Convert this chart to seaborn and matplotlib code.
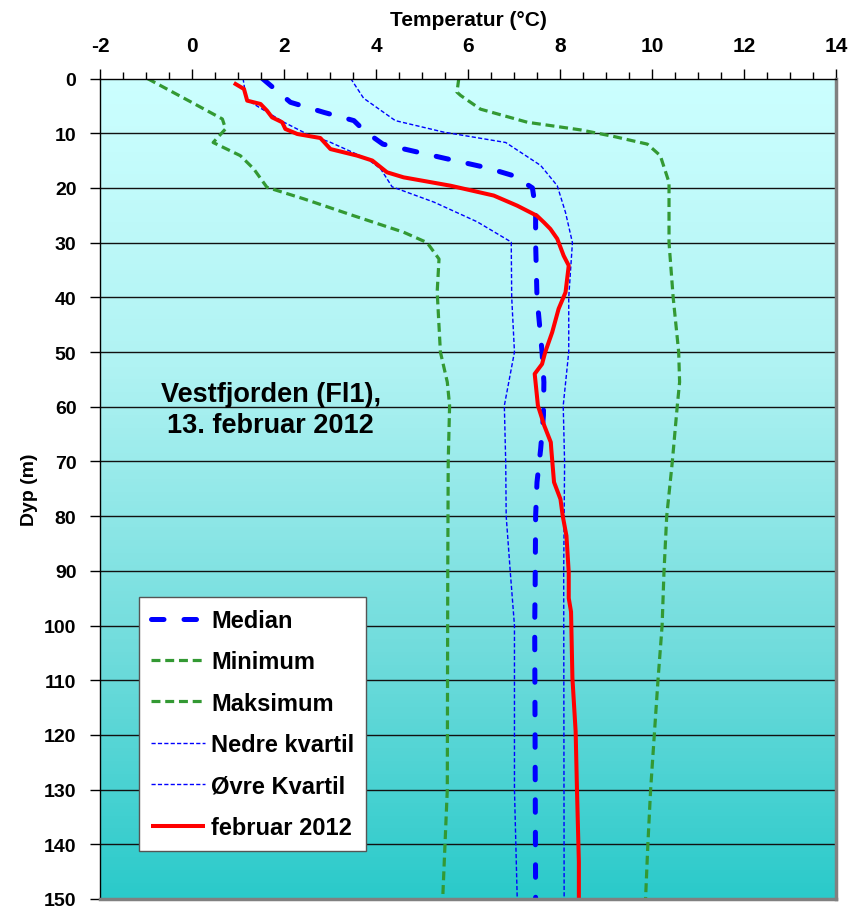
import numpy as np
import pandas as pd
import matplotlib
matplotlib.use("Agg")
import matplotlib.pyplot as plt
from matplotlib.colors import LinearSegmentedColormap
from matplotlib.ticker import MultipleLocator
import seaborn as sns

# ---------------- data ----------------
median_d = [0, 4.35, 6.2, 7.7, 9.6, 12.0, 14.6, 16.3, 17.8, 20.0, 23.8, 30, 40, 50, 55.5, 61.6, 67.7, 73.8, 80, 92.5, 100, 150]
median_t = [1.53, 2.14, 2.87, 3.52, 3.75, 4.15, 5.5, 6.4, 7.0, 7.4, 7.47, 7.47, 7.5, 7.61, 7.65, 7.64, 7.58, 7.5, 7.47, 7.46, 7.45, 7.47]

min_d = [0, 4.3, 7.4, 9.2, 11.7, 14.1, 16.5, 19.9, 22, 25.1, 28.1, 30, 33, 39, 50, 55.5, 59.8, 70, 90, 130, 150]
min_t = [-0.97, -0.02, 0.66, 0.73, 0.46, 1.05, 1.34, 1.63, 2.43, 3.52, 4.6, 5.11, 5.37, 5.33, 5.40, 5.55, 5.6, 5.57, 5.56, 5.55, 5.45]

max_d = [0, 2.5, 3.1, 5.6, 8.0, 9.4, 10.6, 12.0, 14.1, 19.0, 30, 40, 50, 55.5, 59.8, 70.2, 80, 90.3, 100, 110, 120, 130, 140, 150]
max_t = [5.8, 5.76, 5.84, 6.27, 7.29, 8.45, 9.17, 9.9, 10.18, 10.37, 10.37, 10.46, 10.58, 10.6, 10.55, 10.44, 10.32, 10.26, 10.22, 10.13, 10.05, 9.97, 9.91, 9.86]

q1_d = [0, 3.75, 4.66, 8.0, 10.15, 11.67, 14.7, 16.5, 19.8, 22.6, 26.2, 29.9, 40, 50, 59.8, 70.2, 80, 90.3, 100, 130, 150]
q1_t = [1.11, 1.18, 1.34, 2.0, 2.5, 3.01, 3.81, 4.1, 4.35, 5.26, 6.2, 6.94, 6.95, 7.01, 6.79, 6.82, 6.83, 6.92, 7.01, 7.01, 7.07]

q3_d = [0, 3.6, 7.7, 9.8, 11.7, 15.9, 19.6, 24.5, 30, 40, 50, 59.8, 70.2, 90.3, 150]
q3_t = [3.45, 3.73, 4.42, 5.47, 6.82, 7.58, 7.94, 8.12, 8.27, 8.19, 8.19, 8.07, 8.1, 8.08, 8.09]

feb_d = [0.82, 1.92, 4.05, 4.66, 5.88, 7.1, 8.0, 9.23, 10.15, 10.88, 12.9, 14.1, 15.0, 17.15, 18.07, 19.6, 21.4,
         23.25, 25.1, 26.3, 27.5, 29.3, 32.4, 34.2, 39.1, 42.1, 46.4, 50, 52.2, 54, 59.8, 63.5, 66.5, 67.7, 73.8,
         76.9, 80, 83.6, 90.3, 95, 97.5, 109.6, 119.4, 130.4, 143.2, 150]
feb_t = [0.91, 1.13, 1.2, 1.49, 1.63, 1.74, 1.96, 2.03, 2.29, 2.79, 3.01, 3.59, 3.92, 4.24, 4.6, 5.62, 6.56,
         7.07, 7.5, 7.65, 7.79, 7.94, 8.08, 8.19, 8.12, 7.97, 7.83, 7.68, 7.61, 7.45, 7.52, 7.66, 7.8, 7.81, 7.87,
         8.01, 8.06, 8.14, 8.19, 8.19, 8.24, 8.27, 8.34, 8.37, 8.41, 8.41]

x_ticks = [-2, 0, 2, 4, 6, 8, 10, 12, 14]
y_ticks = list(range(0, 151, 10))

# ---------------- style ----------------
sns.set_theme(style="white")
plt.rcParams['font.family'] = ['Liberation Sans', 'DejaVu Sans']
plt.rcParams['font.weight'] = 'bold'
plt.rcParams['axes.unicode_minus'] = False
for k in ['text.color', 'axes.labelcolor', 'xtick.color', 'ytick.color']:
    plt.rcParams[k] = 'black'

fig = plt.figure(figsize=(8.63, 9.2), dpi=100)
ax = fig.add_axes([100 / 863, 1 - 900 / 920, 736 / 863, 820.5 / 920])

# gradient background
cmap = LinearSegmentedColormap.from_list(
    "bg", [(0.0, "#CCFFFF"), (0.35, "#B0F3F3"), (0.7, "#70DCDC"), (1.0, "#2ACACA")])
grad = np.linspace(0, 1, 256).reshape(-1, 1)
ax.imshow(grad, cmap=cmap, aspect='auto', extent=[-2, 14, 150, 0], zorder=0)

# horizontal grid
for yv in y_ticks[1:-1]:
    ax.axhline(yv, color='#111111', lw=1.0, zorder=1)

def draw(t, d, color, lw, dashes, label, cap='butt'):
    df = pd.DataFrame({'t': t, 'd': d})
    sns.lineplot(data=df, x='t', y='d', sort=False, estimator=None, ax=ax,
                 color=color, lw=lw, label=label, zorder=3)
    l = ax.lines[-1]
    if dashes is not None:
        l.set_dashes(dashes)
    l.set_solid_capstyle('butt')
    l.set_dash_capstyle(cap)
    return l

draw(median_t, median_d, '#0000FF', 3.6, (2.5, 4.0), 'Median', cap='round')
draw(min_t, min_d, '#339933', 2.3, (2.8, 1.5), 'Minimum')
draw(max_t, max_d, '#339933', 2.3, (2.8, 1.5), 'Maksimum')
draw(q1_t, q1_d, '#0000FF', 1.0, (3.0, 1.6), 'Nedre kvartil')
draw(q3_t, q3_d, '#0000FF', 1.0, (3.0, 1.6), 'Øvre Kvartil')
draw(feb_t, feb_d, '#FF0000', 2.9, None, 'februar 2012')

ax.set_xlim(-2, 14)
ax.set_ylim(150, 0)

# axes/ticks
ax.xaxis.set_ticks_position('top')
ax.xaxis.set_label_position('top')
ax.set_xticks(x_ticks)
ax.set_xticklabels([str(v) for v in x_ticks], fontsize=15, fontweight='bold')
ax.xaxis.set_minor_locator(MultipleLocator(0.5))
ax.set_yticks(y_ticks)
ax.set_yticklabels([str(v) for v in y_ticks], fontsize=14, fontweight='bold')
ax.tick_params(axis='x', which='major', direction='out', length=7, width=1, color='black', pad=10, top=True, bottom=False)
ax.tick_params(axis='x', which='minor', direction='out', length=5, width=1, color='black', top=True, bottom=False)
ax.tick_params(axis='y', which='major', direction='out', length=7, width=1, color='black', pad=10, left=True)

ax.set_xlabel('Temperatur (°C)', fontsize=15, fontweight='bold', labelpad=8)
ax.set_ylabel('Dyp (m)', fontsize=14, fontweight='bold', labelpad=4)

for side in ['top', 'left']:
    ax.spines[side].set_color('black')
    ax.spines[side].set_linewidth(1.0)
for side in ['right', 'bottom']:
    ax.spines[side].set_color('#808080')
    ax.spines[side].set_linewidth(2.5)
for s in ax.spines.values():
    s.set_zorder(5)

ax.text(1.71, 60.5, 'Vestfjorden (Fl1),\n13. februar 2012', ha='center', va='center',
        fontsize=19.5, fontweight='bold', linespacing=1.22, zorder=4)

leg = ax.legend(loc='upper left', bbox_to_anchor=(39 / 736, 1 - (598 - 79.5) / 820.5),
                borderaxespad=0, frameon=True, fancybox=False,
                handlelength=2.3, handletextpad=0.26, labelspacing=0.78, borderpad=0.5,
                prop={'weight': 'bold', 'size': 17})
leg.get_frame().set_edgecolor('#555555')
leg.get_frame().set_linewidth(1.0)
leg.get_frame().set_facecolor('white')
leg.get_frame().set_alpha(1)
leg.set_zorder(6)

fig.savefig('out.png', dpi=100)
